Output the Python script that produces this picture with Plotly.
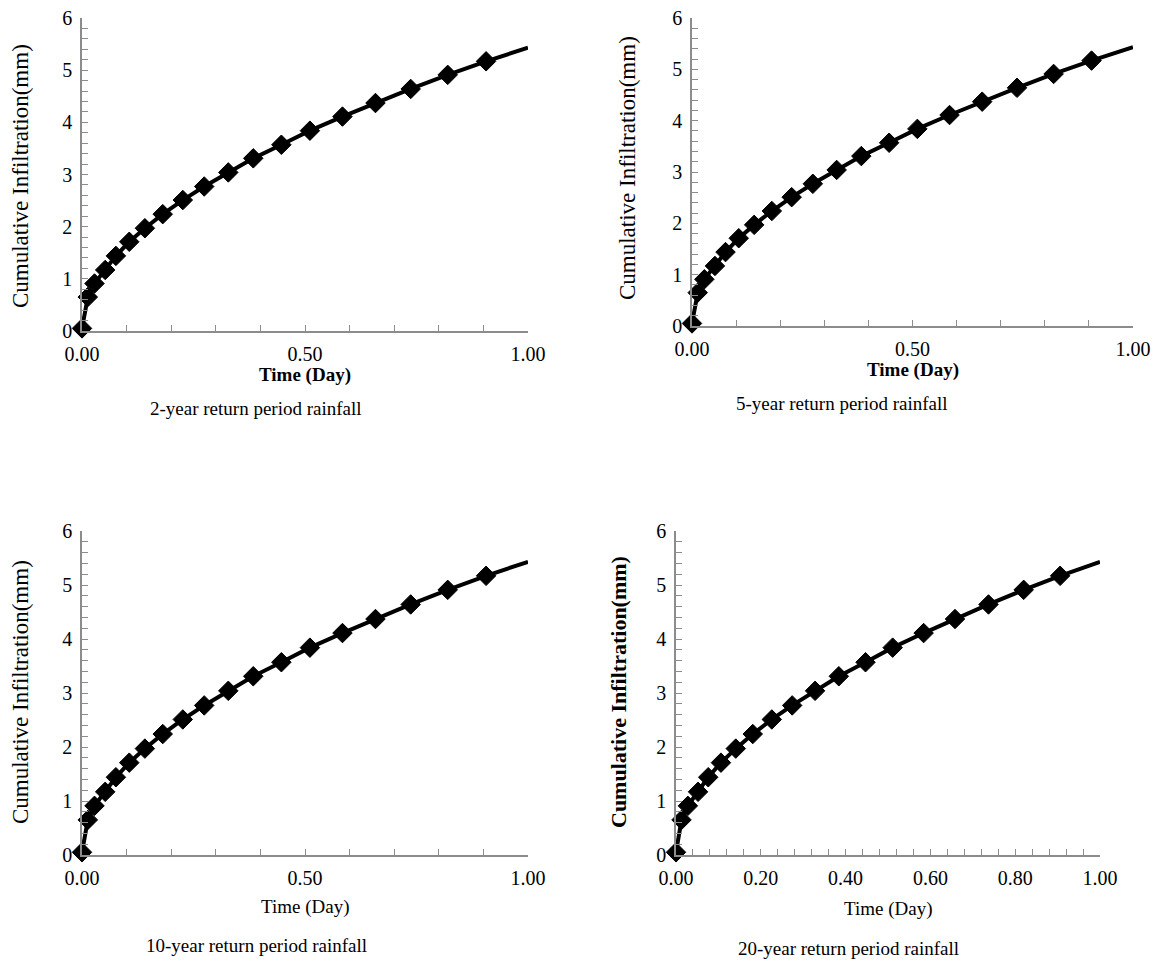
import plotly.graph_objects as go

# ---- data ----
time_day = [0, 0.013, 0.028, 0.052, 0.076, 0.106, 0.141, 0.181, 0.226, 0.274,
            0.328, 0.384, 0.447, 0.511, 0.584, 0.658, 0.737, 0.820, 0.906, 1.0]
infil_2yr = [0.05, 0.65, 0.91, 1.17, 1.44, 1.71, 1.97, 2.24, 2.51, 2.77,
             3.04, 3.31, 3.57, 3.84, 4.11, 4.37, 4.64, 4.91, 5.17, 5.43]
infil_5yr = [0.05, 0.65, 0.91, 1.17, 1.44, 1.71, 1.97, 2.24, 2.51, 2.77,
             3.04, 3.31, 3.57, 3.84, 4.11, 4.37, 4.64, 4.91, 5.17, 5.43]
infil_10yr = [0.05, 0.65, 0.91, 1.17, 1.44, 1.71, 1.97, 2.24, 2.51, 2.77,
              3.04, 3.31, 3.57, 3.84, 4.11, 4.37, 4.64, 4.91, 5.17, 5.43]
infil_20yr = [0.05, 0.65, 0.91, 1.17, 1.44, 1.71, 1.97, 2.24, 2.51, 2.77,
              3.04, 3.31, 3.57, 3.84, 4.11, 4.37, 4.64, 4.91, 5.17, 5.43]
panel_titles = ["2-year return period rainfall", "5-year return period rainfall",
                "10-year return period rainfall", "20-year return period rainfall"]
x_title = "Time (Day)"
y_title = "Cumulative Infiltration(mm)"

W, H = 1161, 970
OFF = 8  # page body margin
FONT = "Liberation Serif"
AXC = "#8c8c8c"

def px(x):
    return (x - OFF) / W

def py(y):
    return 1 - (y - OFF) / H

# panel geometry in screen pixels: (x0, x1, y_bottom, y_top)
panels = [
    (82, 528, 331, 18),
    (692, 1133, 326, 18),
    (82, 528, 855, 531),
    (676, 1100, 855, 531),
]
series = [infil_2yr, infil_5yr, infil_10yr, infil_20yr]
x_dticks = [(0.5, 0.1), (0.5, 0.1), (0.5, 0.1), (0.2, 0.04)]
x_title_bold = [True, True, False, False]
y_title_bold = [False, False, False, True]
x_title_pos = [(305, 375), (913, 370), (305, 907), (888, 909)]
sub_pos = [(256, 408), (842, 403), (256, 945), (848, 948)]
y_title_pos = [(20, 176), (628, 168), (20, 692), (618, 692)]

fig = go.Figure()
msizes = [15] * (len(time_day) - 1) + [0]

for i, (geo, ys) in enumerate(zip(panels, series)):
    n = "" if i == 0 else str(i + 1)
    fig.add_trace(go.Scatter(
        x=time_day, y=ys, mode="lines+markers",
        line=dict(color="#000000", width=4),
        marker=dict(symbol="diamond", size=msizes, color="#000000", opacity=1,
                    line=dict(color="#000000", width=1)),
        opacity=1,
        cliponaxis=False, showlegend=False,
        xaxis="x" + n, yaxis="y" + n,
    ))
    x0, x1, yb, yt = geo
    dt, mdt = x_dticks[i]
    fig.layout["xaxis" + n] = dict(
        domain=[px(x0), px(x1)], range=[0, 1], anchor="y" + n,
        automargin=False, ticklabeloverflow="allow", ticklabelstandoff=4,
        showline=True, linecolor=AXC, linewidth=1.5,
        showgrid=False, zeroline=False,
        ticks="inside", ticklen=6, tickcolor=AXC, tickwidth=1.2,
        dtick=dt, tick0=0, tickformat=".2f",
        tickfont=dict(family=FONT, size=20, color="black"),
        minor=dict(ticks="inside", ticklen=6, tickcolor=AXC, dtick=mdt, tick0=0, showgrid=False),
        fixedrange=True,
    )
    fig.layout["yaxis" + n] = dict(
        domain=[py(yb), py(yt)], range=[0, 6], anchor="x" + n,
        automargin=False, ticklabeloverflow="allow", ticklabelstandoff=4,
        showline=True, linecolor=AXC, linewidth=1.5,
        showgrid=False, zeroline=False,
        ticks="inside", ticklen=6, tickcolor=AXC, tickwidth=1.2,
        dtick=1, tick0=0,
        tickfont=dict(family=FONT, size=20, color="black"),
        minor=dict(ticks="inside", ticklen=6, tickcolor=AXC, dtick=0.2, tick0=0, showgrid=False),
        fixedrange=True,
    )
    tx, ty = x_title_pos[i]
    t = f"<b>{x_title}</b>" if x_title_bold[i] else x_title
    fig.add_annotation(x=px(tx), y=py(ty), xref="paper", yref="paper", text=t,
                       showarrow=False, xanchor="center", yanchor="middle",
                       font=dict(family=FONT, size=19, color="black"))
    sx, sy = sub_pos[i]
    fig.add_annotation(x=px(sx), y=py(sy), xref="paper", yref="paper", text=panel_titles[i],
                       showarrow=False, xanchor="center", yanchor="middle",
                       font=dict(family=FONT, size=19, color="black"))
    yx, yy = y_title_pos[i]
    yt_text = f"<b>{y_title}</b>" if y_title_bold[i] else y_title
    fig.add_annotation(x=px(yx), y=py(yy), xref="paper", yref="paper", text=yt_text,
                       showarrow=False, xanchor="center", yanchor="middle", textangle=-90,
                       font=dict(family=FONT, size=22 if y_title_bold[i] else 23, color="black"))

fig.update_layout(
    template="none",
    width=W, height=H,
    margin=dict(l=0, r=0, t=0, b=0, autoexpand=False),
    paper_bgcolor="white", plot_bgcolor="white",
    font=dict(family=FONT, color="black"),
)

fig.write_html("out.html")
